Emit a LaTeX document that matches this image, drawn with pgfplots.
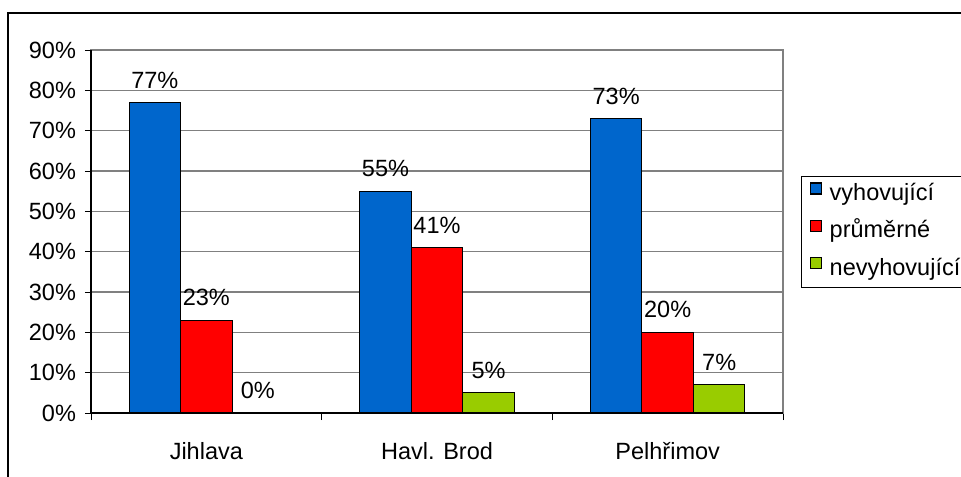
\documentclass[border=0pt]{standalone}
\usepackage{pgfplots}
\pgfplotsset{compat=1.18}
\usepackage{fontspec}
\setmainfont{Liberation Sans}
\definecolor{cBlue}{HTML}{0066CC}
\definecolor{cRed}{HTML}{FF0000}
\definecolor{cGreen}{HTML}{99CC00}
\definecolor{gridgray}{HTML}{808080}
\newcommand\chartfont{\fontsize{11.75}{14}\selectfont}

\begin{document}
\begin{tikzpicture}
\useasboundingbox (0,0) rectangle (480.5pt,238pt);
\draw[line width=1pt] (4pt,-10pt) rectangle (500pt,231.5pt);
\begin{axis}[
  at={(45.5pt,31.5pt)}, anchor=south west,
  scale only axis, width=346pt, height=181.5pt,
  ybar=0pt, bar width=25.75pt,
  xmin=-0.5, xmax=2.5, ymin=0, ymax=90,
  xtick={0,1,2},
  xticklabels={Jihlava, Havl. Brod, Pelhřimov},
  minor xtick={-0.5,0.5,1.5,2.5},
  ytick={0,10,...,90},
  xtick pos=bottom, ytick pos=left,
  tick align=outside,
  major tick length=3pt, minor tick length=3.5pt,
  major x tick style={draw=none},
  tick style={black, line width=0.5pt},
  ymajorgrids, grid style={gridgray, line width=0.6pt},
  axis line style={gridgray, line width=0.6pt},
  /pgf/number format/assume math mode=true,
  yticklabel={\pgfmathprintnumber{\tick}\%},
  ticklabel style={font=\chartfont},
  xticklabel style={yshift=-8pt},
  yticklabel style={xshift=-1pt},
  nodes near coords={\pgfmathprintnumber{\pgfplotspointmeta}\%},
  nodes near coords style={font=\chartfont, anchor=south, yshift=3.5pt},
  clip=false,
  legend style={at={(1.026,0.653)}, anchor=north west, draw=black,
    line width=0.5pt, font=\chartfont, row sep=6.5pt,
    inner xsep=4pt, inner ysep=3pt,
    nodes={inner sep=0pt, text height=9pt, text depth=3pt}},
  legend cell align=left,
  legend image code/.code={\draw[#1, draw=black, line width=0.6pt] (0pt,0.3pt) rectangle (5.5pt,5.8pt);},
]
\addplot[fill=cBlue, draw=black, line width=0.5pt] coordinates {(0,77) (1,55) (2,73)};
\addplot[fill=cRed, draw=black, line width=0.5pt] coordinates {(0,23) (1,41) (2,20)};
\addplot[fill=cGreen, draw=black, line width=0.5pt] coordinates {(0,0) (1,5) (2,7)};
\legend{\hspace*{4pt}vyhovující, \hspace*{4pt}průměrné, \hspace*{4pt}nevyhovující}
\draw[black, line width=0.6pt] (rel axis cs:0,1) -- (rel axis cs:0,0) -- (rel axis cs:1,0);
\end{axis}
\end{tikzpicture}
\end{document}
